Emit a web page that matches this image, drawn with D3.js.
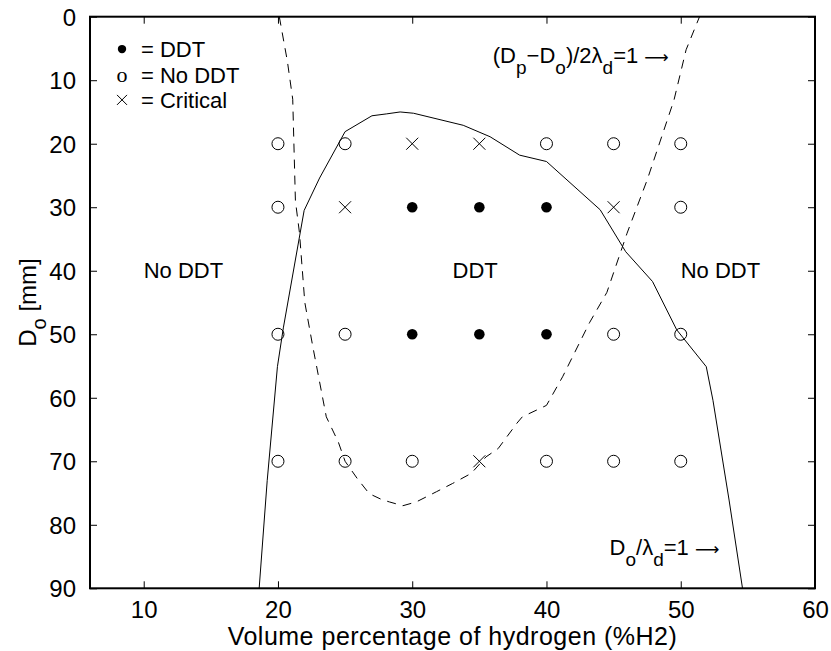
<!DOCTYPE html>
<html>
<head>
<meta charset="utf-8">
<script src="https://cdn.jsdelivr.net/npm/d3@7"></script>
<style>
  html, body { margin: 0; padding: 0; background: #fff; }
  svg { display: block; }
  text { font-family: "Liberation Sans", Arial, Helvetica, sans-serif; fill: #000; }
</style>
</head>
<body>
<svg id="chart" width="831" height="651"></svg>
<script>
// ---------- data ----------
const hydrogenLevels = [20, 25, 30, 35, 40, 45, 50];
const diameterLevels = [20, 30, 50, 70];
// status per diameter row: D = DDT, N = No DDT, C = Critical
const statusRow20 = ["N", "N", "C", "C", "N", "N", "N"];
const statusRow30 = ["N", "C", "D", "D", "D", "C", "N"];
const statusRow50 = ["N", "N", "D", "D", "D", "N", "N"];
const statusRow70 = ["N", "N", "N", "C", "N", "N", "N"];
const statusRows = [statusRow20, statusRow30, statusRow50, statusRow70];

// D_o / lambda_d = 1 boundary (solid)
const solidX = [18.6, 19.2, 19.96, 20.4, 21.95, 23.1, 25.0, 27.0, 28.1, 29.1, 30.1, 33.8, 35.8, 38.0, 40.0, 44.0, 45.9, 47.9, 49.7, 51.9, 52.4, 53.6, 54.6];
const solidY = [90, 73, 55.1, 49, 30.5, 25.4, 18.1, 15.6, 15.3, 15.0, 15.2, 17.1, 18.9, 21.8, 22.8, 30.4, 37, 41.7, 49.3, 55.1, 60.4, 76.1, 90];

// (D_p - D_o)/2 lambda_d = 1 boundary (dashed)
const dashX = [20.1, 20.7, 21.1, 21.3, 21.6, 22.0, 22.6, 23.6, 24.5, 25.0, 25.9, 26.8, 27.7, 28.3, 29.3, 30.3, 31.8, 33.0, 34.4, 35.5, 36.4, 37.8, 38.2, 40.0, 41.2, 43.2, 44.5, 46.0, 47.5, 49.5, 50.4, 51.4];
const dashY = [0, 7, 13, 29, 34, 45, 52, 63, 67, 70, 72.7, 75.1, 76, 76.4, 77, 76.4, 74.8, 73.5, 71.9, 69.3, 68, 64, 63, 61.2, 56.7, 48.2, 43.4, 34.1, 25.7, 13.1, 5.2, 0];

const xTicks = [10, 20, 30, 40, 50, 60];
const yTicks = [0, 10, 20, 30, 40, 50, 60, 70, 80, 90];
const xDomain = [6, 60];
const yDomain = [0, 90];

const regionLabels = ["No DDT", "DDT", "No DDT"];
const regionLabelX = [10, 33, 50];
const regionLabelY = [40, 40, 40];

const legendSymbols = ["\u2022", "o", "\u00d7"];
const legendTexts = ["= DDT", "= No DDT", "= Critical"];
const legendY = [5.1, 9.3, 13.1];

// ---------- layout ----------
const svg = d3.select("#chart");
const plot = { left: 90, top: 16.7, right: 815, bottom: 588.3 };
const x = d3.scaleLinear().domain(xDomain).range([plot.left, plot.right]);
const y = d3.scaleLinear().domain(yDomain).range([plot.top, plot.bottom]);

const g = svg.append("g");

// axes (ticks inside, on all four sides)
const tickLen = 7;
const axB = g.append("g").attr("transform", `translate(0,${plot.bottom})`)
  .call(d3.axisBottom(x).tickValues(xTicks).tickSizeInner(-tickLen).tickSizeOuter(0).tickPadding(13));
const axT = g.append("g").attr("transform", `translate(0,${plot.top})`)
  .call(d3.axisTop(x).tickValues(xTicks).tickSizeInner(-tickLen).tickSizeOuter(0).tickFormat(""));
const axL = g.append("g").attr("transform", `translate(${plot.left},0)`)
  .call(d3.axisLeft(y).tickValues(yTicks).tickSizeInner(-tickLen).tickSizeOuter(0).tickPadding(14));
const axR = g.append("g").attr("transform", `translate(${plot.right},0)`)
  .call(d3.axisRight(y).tickValues(yTicks).tickSizeInner(-tickLen).tickSizeOuter(0).tickFormat(""));
[axB, axT, axL, axR].forEach(a => {
  a.select(".domain").remove();
  a.selectAll(".tick line").attr("stroke", "#000").attr("stroke-width", 1);
  a.selectAll(".tick text").style("font-size", "24px").attr("fill", "#000");
});
axL.selectAll(".tick text").attr("dy", "0.35em");
axB.selectAll(".tick text").attr("dy", "0.71em");

// frame
g.append("rect")
  .attr("x", plot.left).attr("y", plot.top)
  .attr("width", plot.right - plot.left).attr("height", plot.bottom - plot.top)
  .attr("fill", "none").attr("stroke", "#000").attr("stroke-width", 2);

// clip
svg.append("defs").append("clipPath").attr("id", "clip")
  .append("rect").attr("x", plot.left).attr("y", plot.top)
  .attr("width", plot.right - plot.left).attr("height", plot.bottom - plot.top);

const line = d3.line().x(d => x(d[0])).y(d => y(d[1]));
const solidPts = solidX.map((v, i) => [v, solidY[i]]);
const dashPts = dashX.map((v, i) => [v, dashY[i]]);

const curves = g.append("g").attr("clip-path", "url(#clip)");
curves.append("path").datum(solidPts).attr("d", line)
  .attr("fill", "none").attr("stroke", "#000").attr("stroke-width", 1);
curves.append("path").datum(dashPts).attr("d", line)
  .attr("fill", "none").attr("stroke", "#000").attr("stroke-width", 1)
  .attr("stroke-dasharray", "9,7");

// markers
const pts = [];
diameterLevels.forEach((dv, r) => {
  hydrogenLevels.forEach((hv, c) => pts.push({ h: hv, d: dv, s: statusRows[r][c] }));
});
const mk = g.append("g");
pts.forEach(p => {
  const cx = x(p.h), cy = y(p.d);
  if (p.s === "N") {
    mk.append("circle").attr("cx", cx).attr("cy", cy).attr("r", 6)
      .attr("fill", "none").attr("stroke", "#000").attr("stroke-width", 1);
  } else if (p.s === "D") {
    mk.append("circle").attr("cx", cx).attr("cy", cy).attr("r", 5.3)
      .attr("fill", "#000");
  } else {
    const s = 6;
    mk.append("path")
      .attr("d", `M${cx - s},${cy - s}L${cx + s},${cy + s}M${cx - s},${cy + s}L${cx + s},${cy - s}`)
      .attr("stroke", "#000").attr("stroke-width", 1);
  }
});

// region labels
regionLabels.forEach((t, i) => {
  g.append("text").attr("x", x(regionLabelX[i])).attr("y", y(regionLabelY[i]))
    .attr("dy", "0.35em").style("font-size", "22px").text(t);
});

// legend
legendTexts.forEach((t, i) => {
  const yy = y(legendY[i]);
  if (i === 0) {
    g.append("circle").attr("cx", 122).attr("cy", yy).attr("r", 4.2).attr("fill", "#000");
  } else if (i === 1) {
    g.append("text").attr("x", 122).attr("y", yy).attr("dy", "0.3em")
      .attr("text-anchor", "middle")
      .style("font-family", "'Liberation Serif', 'Times New Roman', serif")
      .style("font-size", "22px").text(legendSymbols[i]);
  } else {
    const s = 5;
    g.append("path")
      .attr("d", `M${122 - s},${yy - s}L${122 + s},${yy + s}M${122 - s},${yy + s}L${122 + s},${yy - s}`)
      .attr("stroke", "#000").attr("stroke-width", 1);
  }
  g.append("text").attr("x", 141).attr("y", yy).attr("dy", "0.35em")
    .style("font-size", "22px").text(t);
});

// boundary annotations with subscripts
function subText(px, py, parts) {
  const t = g.append("text").attr("x", px).attr("y", py).style("font-size", "22px");
  parts.forEach(p => {
    const ts = t.append("tspan").text(p.t);
    if (p.sub) ts.attr("dy", 11).style("font-size", "19px");
    if (p.back) ts.attr("dy", -11);
    if (p.arrow) ts.style("font-family", "'DejaVu Sans', sans-serif").style("font-size", "17px");
  });
  return t;
}
subText(x(36.0), y(7.3), [
  { t: "(D" }, { t: "p", sub: true }, { t: "\u2212D", back: true }, { t: "o", sub: true },
  { t: ")/2\u03bb", back: true }, { t: "d", sub: true }, { t: "=1 ", back: true }, { t: "\u27f6", arrow: true }
]);
subText(x(44.7), y(84.8), [
  { t: "D" }, { t: "o", sub: true }, { t: "/\u03bb", back: true }, { t: "d", sub: true },
  { t: "=1 ", back: true }, { t: "\u27f6", arrow: true }
]);

// axis titles
g.append("text").attr("x", (plot.left + plot.right) / 2).attr("y", 645)
  .attr("text-anchor", "middle").style("font-size", "25px").style("letter-spacing", "0.5px")
  .text("Volume percentage of hydrogen (%H2)");

const yl = g.append("text")
  .attr("transform", `translate(36,${(plot.top + plot.bottom) / 2}) rotate(-90)`)
  .attr("text-anchor", "middle").style("font-size", "24px");
yl.append("tspan").text("D");
yl.append("tspan").attr("dy", 10).style("font-size", "20px").text("o");
yl.append("tspan").attr("dy", -10).text(" [mm]");
</script>
</body>
</html>
